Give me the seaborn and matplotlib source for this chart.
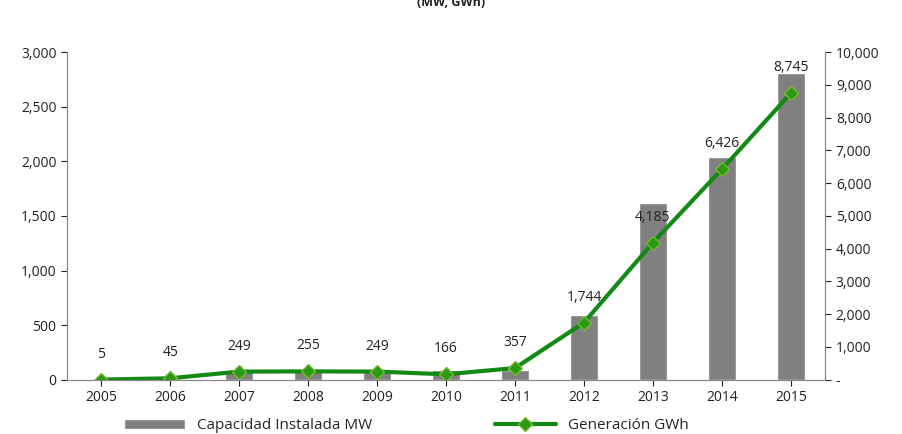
import numpy as np
import pandas as pd
import seaborn as sns
import matplotlib.pyplot as plt
from matplotlib.ticker import FuncFormatter

anios = ["2005", "2006", "2007", "2008", "2009", "2010", "2011", "2012", "2013", "2014", "2015"]
capacidad_mw = [2, 2, 85, 85, 85, 85, 86, 595, 1620, 2040, 2805]
generacion_gwh = [5, 45, 249, 255, 249, 166, 357, 1744, 4185, 6426, 8745]

sns.set_style("white")
plt.rcParams["font.family"] = ["Open Sans", "DejaVu Sans"]

df = pd.DataFrame({"anio": anios, "cap": capacidad_mw, "gen": generacion_gwh})

fig = plt.figure(figsize=(9.03, 4.34), dpi=100)
ax = fig.add_axes([0.074, 0.125, 0.84, 0.755])
sns.barplot(data=df, x="anio", y="cap", color="#808080", width=0.4, saturation=1, ax=ax,
            label="Capacidad Instalada MW")
ax.set_ylim(0, 3000)
ax.set_yticks(range(0, 3001, 500))
ax.yaxis.set_major_formatter(FuncFormatter(lambda v, p: f"{int(v):,}"))
ax.set_xlabel("")
ax.set_ylabel("")

ax2 = ax.twinx()
x = np.arange(len(anios))
ax2.plot(x, generacion_gwh, color="#138a13", lw=3, marker="D", ms=7,
         markerfacecolor="#2a9a14", markeredgecolor="#7ab830", label="Generación GWh")
ax2.set_ylim(0, 10000)
ax2.set_yticks(range(0, 10001, 1000))
ax2.yaxis.set_major_formatter(FuncFormatter(lambda v, p: "-" if v == 0 else f"{int(v):,}"))
for xi, v in zip(x, generacion_gwh):
    ax2.text(xi, v + 550, f"{v:,}", ha="center", va="bottom", fontsize=10, color="#222222")

ax.set_xlim(-0.5, len(anios) - 0.5)
for a in (ax, ax2):
    a.spines["top"].set_visible(False)
    for s in ["left", "right", "bottom"]:
        a.spines[s].set_color("#888888")
    a.tick_params(labelsize=10, colors="#222222", length=4, direction="out")
ax.tick_params(axis="y", left=True)
ax.tick_params(axis="x", bottom=True)
ax2.tick_params(axis="y", right=True)

h1, l1 = ax.get_legend_handles_labels()
h2, l2 = ax2.get_legend_handles_labels()
if ax.get_legend() is not None:
    ax.get_legend().remove()
fig.legend(h1 + h2, l1 + l2, loc="lower center", ncol=2, frameon=False, fontsize=11,
           bbox_to_anchor=(0.45, -0.03), columnspacing=8, handlelength=4)
fig.text(0.5, 0.995, "(MW, GWh)", ha="center", va="center", fontsize=9, weight="bold", color="#222222")

fig.savefig("out.png", dpi=100)
